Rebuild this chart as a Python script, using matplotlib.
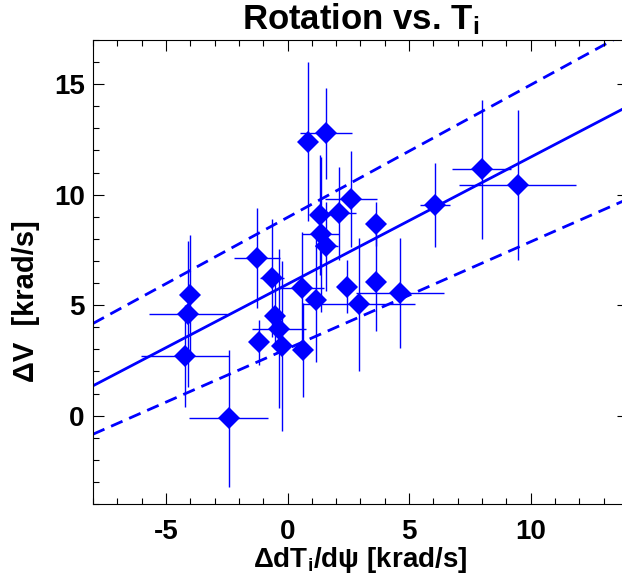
import matplotlib
matplotlib.use("Agg")
import matplotlib.pyplot as plt
from matplotlib.ticker import MultipleLocator
import numpy as np

plt.rcParams['font.family'] = ['Liberation Sans', 'DejaVu Sans']
plt.rcParams['font.weight'] = 'bold'
plt.rcParams['axes.unicode_minus'] = False
plt.rcParams['mathtext.fontset'] = 'custom'
plt.rcParams['mathtext.rm'] = 'Liberation Sans:bold'
plt.rcParams['mathtext.it'] = 'Liberation Sans:bold'
plt.rcParams['mathtext.bf'] = 'Liberation Sans:bold'

# data: delta dTi/dpsi (x), delta V (y), with errors
dTi = [-4.01, -4.08, -4.22, -2.42, -1.25, -1.16, -0.65, -0.52, -0.35, -0.24,
       0.58, 0.65, 0.85, 1.58, 1.33, 1.36, 1.60, 1.15, 2.11, 2.61,
       2.43, 2.93, 3.62, 3.62, 4.62, 6.06, 7.98, 9.46]
dV = [5.45, 4.61, 2.70, -0.12, 7.13, 3.31, 6.23, 4.50, 3.94, 3.15,
      5.78, 2.96, 12.39, 12.77, 9.08, 8.21, 7.66, 5.23, 9.16, 9.80,
      5.83, 5.03, 8.68, 6.04, 5.56, 9.54, 11.14, 10.44]
dTi_err = [0.2, 1.6, 1.8, 1.63, 0.95, 0.3, 0.5, 0.3, 1.12, 0.3,
           0.93, 0.3, 0.3, 1.06, 0.4, 0.77, 0.47, 0.4, 0.7, 1.08,
           0.4, 2.33, 0.3, 0.3, 1.8, 0.63, 1.2, 2.4]
dV_err = [2.72, 3.3, 2.32, 3.1, 2.26, 1.0, 2.66, 1.5, 3.6, 3.83,
          2.55, 2.13, 3.6, 2.04, 2.7, 3.5, 2.0, 2.8, 2.1, 2.19,
          1.2, 3.0, 1.0, 2.2, 2.5, 1.9, 3.13, 3.4]

# fit lines (slope, intercept)
fit_slope, fit_icpt = 0.575, 5.95
upper_slope, upper_icpt = 0.600, 8.97
lower_slope, lower_icpt = 0.484, 3.03

W, H = 622, 581
fig = plt.figure(figsize=(W / 100, H / 100), dpi=100)
ax = fig.add_axes([93 / W, 1 - 504 / H, (628 - 93) / W, (504 - 40) / H])

blue = '#0000ff'
ax.errorbar(dTi, dV, xerr=dTi_err, yerr=dV_err, fmt='none', ecolor=blue,
            elinewidth=1.0, capsize=0, zorder=2)
ax.plot(dTi, dV, linestyle='none', marker='D', markersize=11.5,
        color=blue, markeredgewidth=0, zorder=3)

xx = np.array([-8.0, 14.0])
ax.plot(xx, fit_slope * xx + fit_icpt, color=blue, lw=2.0, zorder=1)
ax.plot(xx, upper_slope * xx + upper_icpt, color=blue, lw=2.0,
        dashes=(4.5, 2.6), zorder=1)
ax.plot(xx, lower_slope * xx + lower_icpt, color=blue, lw=2.0,
        dashes=(4.5, 2.6), zorder=1)

ax.set_xlim(-8, 14)
ax.set_ylim(-4, 17)
ax.xaxis.set_major_locator(MultipleLocator(5))
ax.xaxis.set_minor_locator(MultipleLocator(1))
ax.yaxis.set_major_locator(MultipleLocator(5))
ax.yaxis.set_minor_locator(MultipleLocator(1))
ax.tick_params(which='both', direction='in', top=True, right=True,
               width=0.8, labelsize=20)
ax.tick_params(axis='x', pad=11)
ax.tick_params(axis='y', pad=6)
ax.tick_params(which='major', length=8)
ax.tick_params(which='minor', length=4.2)
for s in ax.spines.values():
    s.set_linewidth(0.8)

ax.set_title(r'Rotation vs. T$_\mathrm{i}$', fontsize=25, fontweight='bold', pad=8)
ax.set_xlabel(r'ΔdT$_\mathrm{i}$/dψ [krad/s]', fontsize=20, fontweight='bold', labelpad=0)
ax.set_ylabel('ΔV  [krad/s]', fontsize=21, fontweight='bold')
ax.yaxis.set_label_coords((40 - 93) / 535, (504 - 301) / 464)

fig.savefig('out.png', dpi=100)
